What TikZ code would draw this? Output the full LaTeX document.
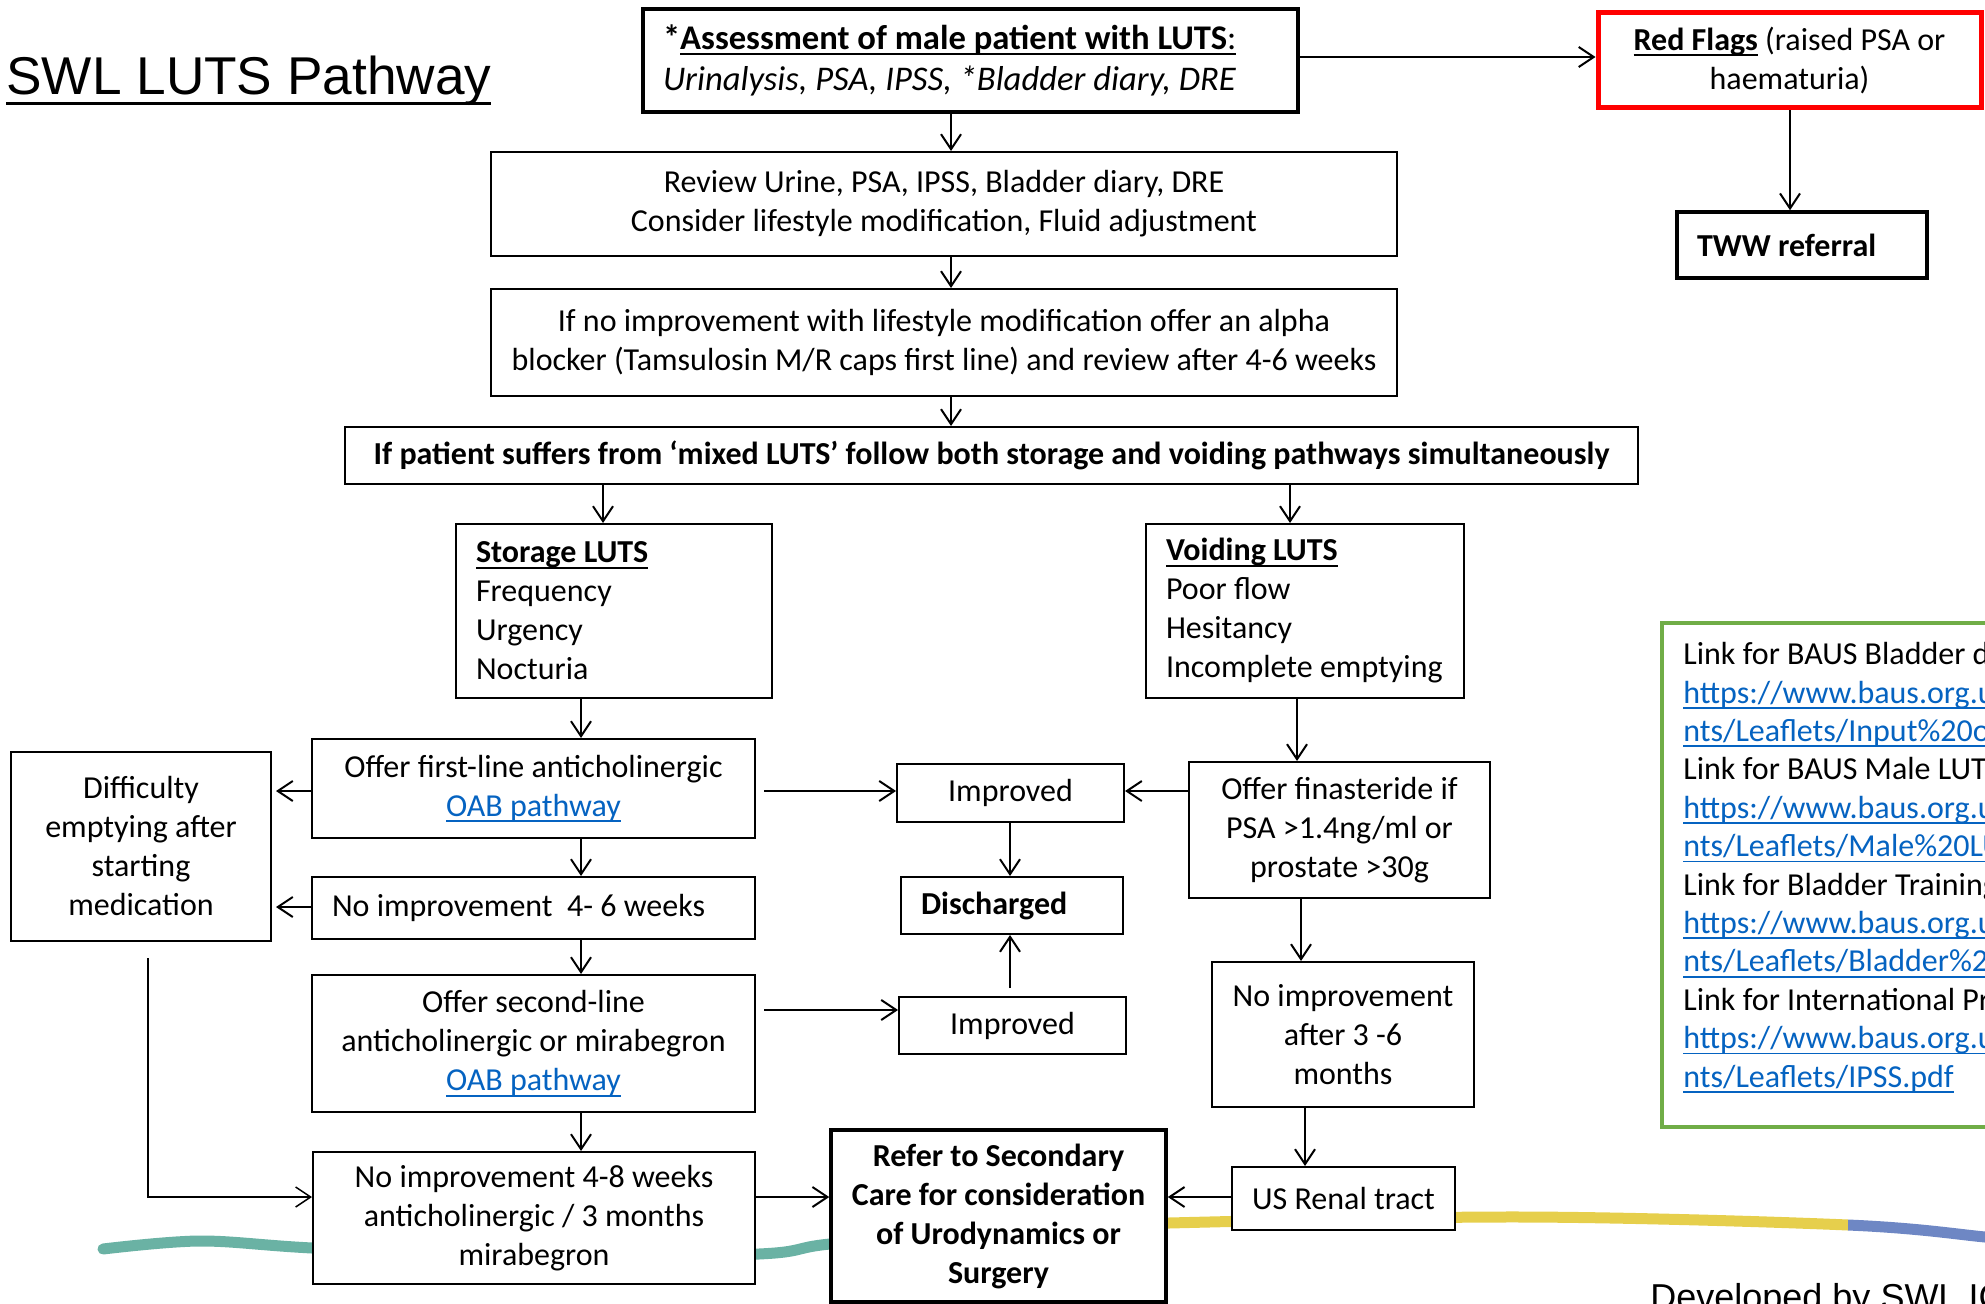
\documentclass[tikz,border=0pt]{standalone}
\usepackage{fontspec}
\setmainfont{Carlito}
\newfontfamily\arialf{Liberation Sans}
\usetikzlibrary{arrows.meta}
\definecolor{linkblue}{HTML}{0563C1}
\definecolor{flagred}{HTML}{FF0000}
\definecolor{boxgreen}{HTML}{70AD47}
\definecolor{swteal}{HTML}{6AB2A4}
\definecolor{swyellow}{HTML}{E6CF4C}
\definecolor{swblue}{HTML}{6E87C4}
\newcommand\bodyf{\fontsize{16}{19.5}\selectfont}
\newcommand\bigbodyf{\fontsize{17.3}{20.7}\selectfont}
\newcommand\linkf{\fontsize{16}{19.2}\selectfont}
\newcommand\titlef{\arialf\fontsize{26.6}{30}\selectfont}
\newcommand\devf{\arialf\fontsize{18}{21}\selectfont}
\newsavebox\ulbox
\newcommand\myul[1]{\leavevmode\sbox\ulbox{#1}\rlap{\rule[-2.9pt]{\wd\ulbox}{0.9pt}}\usebox\ulbox}
\newcommand\titleul[1]{\leavevmode\sbox\ulbox{#1}\rlap{\rule[-5pt]{\wd\ulbox}{1.5pt}}\usebox\ulbox}
\newcommand\lnk[1]{{\color{linkblue}\myul{#1}}}
\begin{document}
\begin{tikzpicture}[x=0.5pt,y=-0.5pt,
  box/.style={draw=black, line width=1pt, fill=white, inner sep=0pt, align=center, font=\bodyf},
  heavybox/.style={box, line width=1.75pt},
  arr/.style={draw=black, line width=1pt, -{Straight Barb[length=7.5pt,width=10pt]}},
  swoosh/.style={line width=5.5pt, line cap=round}]

\useasboundingbox (0,0) rectangle (1985,1304);
\clip (0,0) rectangle (1985,1304);

% background swoosh
\begin{scope}
  \clip (0,1100) rectangle (1000,1304);
  \draw[swoosh, swteal] plot[smooth,tension=0.55] coordinates {(103,1249) (200,1241) (312,1248) (530,1258) (759,1254) (830,1244) (1000,1230) (1169,1223) (1523,1217) (1848,1225) (1985,1237) (2030,1242)};
\end{scope}
\begin{scope}
  \clip (1000,1100) rectangle (1848,1304);
  \draw[swoosh, swyellow] plot[smooth,tension=0.55] coordinates {(103,1249) (200,1241) (312,1248) (530,1258) (759,1254) (830,1244) (1000,1230) (1169,1223) (1523,1217) (1848,1225) (1985,1237) (2030,1242)};
\end{scope}
\begin{scope}
  \clip (1848,1100) rectangle (1985,1304);
  \draw[swoosh, swblue] plot[smooth,tension=0.55] coordinates {(103,1249) (200,1241) (312,1248) (530,1258) (759,1254) (830,1244) (1000,1230) (1169,1223) (1523,1217) (1848,1225) (1985,1237) (2030,1242)};
\end{scope}

% guide coordinates
\coordinate (cMain) at (951,0);
\coordinate (cS) at (603,0);
\coordinate (cV) at (1290,0);
\coordinate (cL) at (581,0);
\coordinate (cV2) at (1297,0);
\coordinate (cF) at (1301,0);
\coordinate (cN) at (1305,0);
\coordinate (cRF) at (1790,0);
\coordinate (cDC) at (1010,0);
\coordinate (cD) at (148,0);
\coordinate (rAR) at (0,57);
\coordinate (r1) at (0,791);
\coordinate (r2) at (0,907);
\coordinate (r3) at (0,1010);
\coordinate (r4) at (0,1197);

% title
\node[anchor=base west, inner sep=0pt, font=\titlef] (title) at (6,95)
  {\titleul{SWL LUTS Pathway}};

% nodes
\node[heavybox, font=\bigbodyf, minimum width=327.5pt, minimum height=51.5pt, text width=307.5pt, align=flush left] (A) at (970.5,60.5)
  {\textbf{*}\myul{\textbf{Assessment of male patient with LUTS}:}\\\textit{Urinalysis, PSA, IPSS, *Bladder diary, DRE}};
\node[box, draw=flagred, line width=2.5pt, minimum width=191.5pt, minimum height=47.5pt] (RF) at (1789.5,60.5)
  {\myul{\textbf{Red Flags}} (raised PSA or\\haematuria)};
\node[heavybox, minimum width=125pt, minimum height=33pt, text width=105pt, align=flush left] (TWW) at (1802,245)
  {\textbf{TWW referral}};
\node[box, minimum width=453pt, minimum height=52pt] (R) at (944,204)
  {Review Urine, PSA, IPSS, Bladder diary, DRE\\Consider lifestyle modification, Fluid adjustment};
\node[box, minimum width=453pt, minimum height=53.5pt] (AL) at (944,342.5)
  {If no improvement with lifestyle modification offer an alpha\\blocker (Tamsulosin M/R caps first line) and review after 4-6 weeks};
\node[box, minimum width=646.5pt, minimum height=28.5pt] (M) at (991.5,455.5)
  {\textbf{If patient suffers from ‘mixed LUTS’ follow both storage and voiding pathways simultaneously}};
\node[box, minimum width=158pt, minimum height=87pt, text width=138pt, align=flush left] (S) at (614,611)
  {\myul{\textbf{Storage LUTS}}\\Frequency\\Urgency\\Nocturia};
\node[box, minimum width=159pt, minimum height=87pt, text width=139pt, align=flush left] (V) at (1305,611)
  {\myul{\textbf{Voiding LUTS}}\\Poor flow\\Hesitancy\\\mbox{Incomplete emptying}};
\node[box, minimum width=221.5pt, minimum height=49.5pt] (O1) at (533.5,788.5)
  {Offer first-line anticholinergic\\\lnk{OAB pathway}};
\node[box, minimum width=130pt, minimum height=94.5pt] (D) at (141,846.5)
  {Difficulty\\emptying after\\starting\\medication};
\node[box, minimum width=221.5pt, minimum height=31pt, text width=201.5pt, align=flush left] (NI1) at (533.5,908)
  {No improvement\ \ 4- 6 weeks};
\node[box, minimum width=221.5pt, minimum height=68.5pt] (O2) at (533.5,1043.5)
  {Offer second-line\\anticholinergic or mirabegron\\\lnk{OAB pathway}};
\node[box, minimum width=221pt, minimum height=66pt] (NI2) at (534,1218)
  {No improvement 4-8 weeks\\anticholinergic / 3 months\\mirabegron};
\node[box, minimum width=113.5pt, minimum height=29pt] (I1) at (1010.5,793) {Improved};
\node[box, minimum width=111pt, minimum height=28.5pt, text width=91pt, align=flush left] (DC) at (1012,905.5)
  {\textbf{Discharged}};
\node[box, minimum width=113.5pt, minimum height=28.5pt] (I2) at (1012.5,1025.5) {Improved};
\node[box, minimum width=150.5pt, minimum height=68pt] (F) at (1339.5,830)
  {Offer finasteride if\\PSA >1.4ng/ml or\\prostate >30g};
\node[box, minimum width=131pt, minimum height=72.5pt] (NI3) at (1343,1034.5)
  {No improvement\\after 3 -6\\months};
\node[box, minimum width=111.5pt, minimum height=31.5pt] (US) at (1343.5,1198.5) {US Renal tract};
\node[heavybox, minimum width=167.5pt, minimum height=86pt] (RS) at (998.5,1216)
  {\textbf{Refer to Secondary}\\\textbf{Care for consideration}\\\textbf{of Urodynamics or}\\\textbf{Surgery}};

% links box
\node[box, draw=boxgreen, line width=2pt, minimum width=269pt, minimum height=252pt] (LB) at (1931,875) {};
\node[anchor=north west, inner sep=0pt, align=flush left, font=\linkf] (LBtext) at (1683,642)
  {Link for BAUS Bladder diary\\
   \lnk{https://www.baus.org.uk/}\\
   \lnk{nts/Leaflets/Input\%20output}\\
   Link for BAUS Male LUTS\\
   \lnk{https://www.baus.org.uk/}\\
   \lnk{nts/Leaflets/Male\%20LUTS}\\
   Link for Bladder Training\\
   \lnk{https://www.baus.org.uk/}\\
   \lnk{nts/Leaflets/Bladder\%20training}\\
   Link for International Prostate\\
   \lnk{https://www.baus.org.uk/}\\
   \lnk{nts/Leaflets/IPSS.pdf}};

\node[anchor=base west, inner sep=0pt, font=\devf] (dev) at (1650,1309) {Developed by SWL ICB};

% connectors
\draw[arr] (A.east |- rAR) -- (RF.west |- rAR);
\draw[arr] (RF.south -| cRF) -- (TWW.north -| cRF);
\draw[arr] (A.south -| cMain) -- (R.north -| cMain);
\draw[arr] (R.south -| cMain) -- (AL.north -| cMain);
\draw[arr] (AL.south -| cMain) -- (M.north -| cMain);
\draw[arr] (M.south -| cS) -- (S.north -| cS);
\draw[arr] (M.south -| cV) -- (V.north -| cV);
\draw[arr] (S.south -| cL) -- (O1.north -| cL);
\draw[arr] (O1.south -| cL) -- (NI1.north -| cL);
\draw[arr] (NI1.south -| cL) -- (O2.north -| cL);
\draw[arr] (O2.south -| cL) -- (NI2.north -| cL);
\draw[arr, shorten >=2pt] (O1.west |- r1) -- (D.east |- r1);
\draw[arr, shorten >=2pt] (NI1.west |- r2) -- (D.east |- r2);
\draw[arr, shorten <=4pt] (O1.east |- r1) -- (I1.west |- r1);
\draw[arr, shorten <=4pt] (O2.east |- r3) -- (I2.west |- r3);
\draw[arr] (F.west |- r1) -- (I1.east |- r1);
\draw[arr] (I1.south -| cDC) -- (DC.north -| cDC);
\draw[arr, shorten <=4pt] (I2.north -| cDC) -- (DC.south -| cDC);
\draw[arr] (V.south -| cV2) -- (F.north -| cV2);
\draw[arr] (F.south -| cF) -- (NI3.north -| cF);
\draw[arr] (NI3.south -| cN) -- (US.north -| cN);
\draw[arr, line width=0.75pt, shorten <=8pt] (D.south -| cD) |- (NI2.west |- r4);
\draw[arr] (NI2.east |- r4) -- (RS.west |- r4);
\draw[arr] (US.west |- r4) -- (RS.east |- r4);
\end{tikzpicture}
\end{document}
